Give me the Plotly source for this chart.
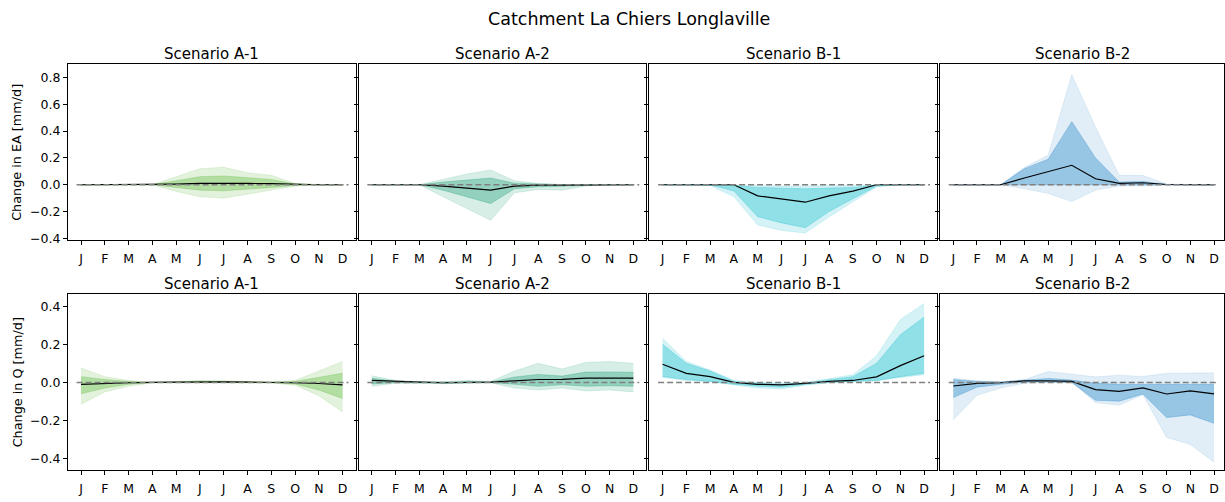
import plotly.graph_objects as go

months = ["J", "F", "M", "A", "M", "J", "J", "A", "S", "O", "N", "D"]
scenarios = ["Scenario A-1", "Scenario A-2", "Scenario B-1", "Scenario B-2"]
title = "Catchment La Chiers Longlaville"
ylabels = ["Change in EA [mm/d]", "Change in Q [mm/d]"]
base_colors = [(95, 185, 60), (27, 158, 119), (23, 190, 207), (40, 135, 200)]
outer_alpha = [0.18, 0.18, 0.18, 0.14]
inner_alpha = [0.36, 0.36, 0.36, 0.40]

# ---- Change in EA ----
ea_a1_outer_hi = [0, 0, 0, 0, 0.06, 0.12, 0.13, 0.09, 0.07, 0.01, 0, 0]
ea_a1_inner_hi = [0, 0, 0, 0, 0.03, 0.06, 0.065, 0.05, 0.04, 0.005, 0, 0]
ea_a1_median = [0, 0, 0, 0, 0.005, 0.01, 0.012, 0.01, 0.008, 0.002, 0, 0]
ea_a1_inner_lo = [0, 0, 0, 0, -0.02, -0.04, -0.045, -0.035, -0.02, -0.005, 0, 0]
ea_a1_outer_lo = [0, 0, 0, 0, -0.05, -0.09, -0.10, -0.07, -0.04, -0.01, 0, 0]

ea_a2_outer_hi = [0, 0, 0, 0.04, 0.08, 0.11, 0.03, 0.01, 0.002, 0, 0, 0]
ea_a2_inner_hi = [0, 0, 0, 0.02, 0.035, 0.05, 0.012, 0.004, 0, 0, 0, 0]
ea_a2_median = [0, 0, 0, -0.01, -0.025, -0.04, -0.01, -0.003, -0.002, 0, 0, 0]
ea_a2_inner_lo = [0, 0, 0, -0.04, -0.09, -0.14, -0.03, -0.015, -0.012, -0.003, 0, 0]
ea_a2_outer_lo = [0, 0, 0, -0.09, -0.18, -0.265, -0.06, -0.035, -0.04, -0.01, 0, 0]

ea_b1_outer_hi = [0, 0, 0, 0, -0.005, -0.01, -0.01, -0.008, -0.005, 0, 0, 0]
ea_b1_inner_hi = [0, 0, 0, -0.005, -0.02, -0.025, -0.03, -0.025, -0.02, -0.003, 0, 0]
ea_b1_median = [0, 0, 0, 0, -0.083, -0.108, -0.13, -0.083, -0.047, 0, 0, 0]
ea_b1_inner_lo = [0, 0, 0, -0.047, -0.238, -0.284, -0.32, -0.2, -0.108, -0.01, 0, 0]
ea_b1_outer_lo = [0, 0, -0.005, -0.09, -0.3, -0.34, -0.36, -0.24, -0.13, -0.015, 0, 0]

ea_b2_outer_hi = [0, 0, 0, 0.13, 0.22, 0.82, 0.43, 0.07, 0.07, 0.005, 0, 0]
ea_b2_inner_hi = [0, 0, 0, 0.12, 0.19, 0.47, 0.2, 0.02, 0.025, 0.002, 0, 0]
ea_b2_median = [0, 0, 0, 0.05, 0.1, 0.145, 0.045, 0.01, 0.015, 0.002, 0, 0]
ea_b2_inner_lo = [0, 0, 0, 0.005, 0.005, 0.005, 0.003, 0.002, 0.002, 0, 0, 0]
ea_b2_outer_lo = [0, 0, 0, -0.03, -0.065, -0.125, -0.04, -0.01, -0.01, 0, 0, 0]

# ---- Change in Q ----
q_a1_outer_hi = [0.075, 0.03, 0.01, 0, 0.005, 0.01, 0.008, 0.005, 0.003, 0.01, 0.06, 0.11]
q_a1_inner_hi = [0.03, 0.015, 0.005, 0, 0.003, 0.006, 0.005, 0.003, 0.002, 0.005, 0.025, 0.048]
q_a1_median = [-0.01, -0.005, -0.002, 0, 0.002, 0.003, 0.003, 0.001, 0, -0.002, -0.006, -0.013]
q_a1_inner_lo = [-0.06, -0.03, -0.01, 0, 0, 0, 0, 0, -0.001, -0.008, -0.04, -0.085]
q_a1_outer_lo = [-0.115, -0.05, -0.02, -0.003, -0.002, -0.002, -0.002, -0.002, -0.003, -0.015, -0.07, -0.155]

q_a2_outer_hi = [0.035, 0.01, 0.005, 0.003, 0.01, 0.005, 0.06, 0.1, 0.07, 0.105, 0.11, 0.1]
q_a2_inner_hi = [0.022, 0.006, 0.003, 0.001, 0.004, 0.002, 0.028, 0.042, 0.033, 0.054, 0.055, 0.053]
q_a2_median = [0.01, 0.004, 0.001, -0.002, 0.001, 0.001, 0.008, 0.015, 0.016, 0.022, 0.022, 0.022]
q_a2_inner_lo = [-0.008, -0.001, -0.002, -0.004, -0.002, -0.001, -0.01, -0.021, -0.012, -0.02, -0.018, -0.02]
q_a2_outer_lo = [-0.02, -0.005, -0.004, -0.007, -0.004, -0.002, -0.03, -0.04, -0.03, -0.045, -0.04, -0.05]

q_b1_outer_hi = [0.232, 0.11, 0.065, 0.01, 0, -0.005, 0, 0.02, 0.04, 0.14, 0.33, 0.415]
q_b1_inner_hi = [0.2, 0.1, 0.06, 0.005, -0.005, -0.01, -0.003, 0.015, 0.03, 0.1, 0.25, 0.343]
q_b1_median = [0.095, 0.047, 0.03, 0, -0.01, -0.013, -0.005, 0.005, 0.01, 0.029, 0.088, 0.14]
q_b1_inner_lo = [0.031, 0.015, 0.005, -0.01, -0.02, -0.025, -0.01, 0, 0.005, 0.01, 0.03, 0.048]
q_b1_outer_lo = [0.025, 0.01, 0.003, -0.012, -0.03, -0.035, -0.015, -0.002, 0.003, 0.008, 0.025, 0.04]

q_b2_outer_hi = [0.022, 0.008, 0.003, 0.015, 0.057, 0.042, 0.029, 0.038, 0.031, 0.048, 0.05, 0.05]
q_b2_inner_hi = [0.015, 0.005, 0.002, 0.012, 0.021, 0.012, -0.005, -0.01, -0.01, -0.01, -0.01, -0.01]
q_b2_median = [-0.019, -0.005, -0.002, 0.008, 0.008, 0.005, -0.038, -0.047, -0.029, -0.061, -0.045, -0.06]
q_b2_inner_lo = [-0.08, -0.025, -0.01, 0.003, 0.002, 0, -0.094, -0.099, -0.061, -0.185, -0.171, -0.215]
q_b2_outer_lo = [-0.197, -0.068, -0.03, -0.005, 0, 0, -0.106, -0.12, -0.065, -0.289, -0.327, -0.419]

panels = [
    (ea_a1_outer_lo, ea_a1_outer_hi, ea_a1_inner_lo, ea_a1_inner_hi, ea_a1_median),
    (ea_a2_outer_lo, ea_a2_outer_hi, ea_a2_inner_lo, ea_a2_inner_hi, ea_a2_median),
    (ea_b1_outer_lo, ea_b1_outer_hi, ea_b1_inner_lo, ea_b1_inner_hi, ea_b1_median),
    (ea_b2_outer_lo, ea_b2_outer_hi, ea_b2_inner_lo, ea_b2_inner_hi, ea_b2_median),
    (q_a1_outer_lo, q_a1_outer_hi, q_a1_inner_lo, q_a1_inner_hi, q_a1_median),
    (q_a2_outer_lo, q_a2_outer_hi, q_a2_inner_lo, q_a2_inner_hi, q_a2_median),
    (q_b1_outer_lo, q_b1_outer_hi, q_b1_inner_lo, q_b1_inner_hi, q_b1_median),
    (q_b2_outer_lo, q_b2_outer_hi, q_b2_inner_lo, q_b2_inner_hi, q_b2_median),
]

W, H = 1225, 502
FONT = "DejaVu Sans"
TICK = 12.5
x_left = [68, 359, 650, 941]
x_right = [356, 647, 938, 1225]
y_top = [64.7, 298]
y_bot = [242.7, 476]
y_ranges = [[-0.41, 0.9], [-0.462, 0.462]]
y_ticks = [[-0.4, -0.2, 0.0, 0.2, 0.4, 0.6, 0.8], [-0.4, -0.2, 0.0, 0.2, 0.4]]
xs = list(range(len(months)))


def rgba(c, a):
    return f"rgba({c[0]},{c[1]},{c[2]},{a})"


fig = go.Figure()
annotations = []
shapes = []
layout = {}

for i, (olo, ohi, ilo, ihi, med) in enumerate(panels):
    r, c = divmod(i, 4)
    n = i + 1
    xa = "x" if n == 1 else f"x{n}"
    ya = "y" if n == 1 else f"y{n}"
    col = base_colors[c]
    for lo, hi, a in [(olo, ohi, outer_alpha[c]), (ilo, ihi, inner_alpha[c])]:
        fig.add_trace(go.Scatter(x=xs, y=lo, mode="lines", line=dict(width=0.8, color=rgba(col, a)),
                                 xaxis=xa, yaxis=ya, showlegend=False, hoverinfo="skip"))
        fig.add_trace(go.Scatter(x=xs, y=hi, mode="lines", line=dict(width=0.8, color=rgba(col, a)),
                                 fill="tonexty", fillcolor=rgba(col, a),
                                 xaxis=xa, yaxis=ya, showlegend=False, hoverinfo="skip"))
    fig.add_trace(go.Scatter(x=xs, y=med, mode="lines", line=dict(width=1.2, color="black"),
                             xaxis=xa, yaxis=ya, showlegend=False))

    xr = [-0.55, 11.55] if c < 3 else [-0.55, 11.42]
    layout["xaxis" if n == 1 else f"xaxis{n}"] = dict(
        domain=[x_left[c] / W, x_right[c] / W], range=xr, anchor=ya,
        tickmode="array", tickvals=xs, ticktext=months,
        showline=True, linecolor="black", linewidth=1, mirror=True,
        ticks="outside", ticklen=4, tickcolor="black", showgrid=False, zeroline=False,
        ticklabelstandoff=3,
        tickfont=dict(family=FONT, size=TICK, color="black"),
    )
    layout["yaxis" if n == 1 else f"yaxis{n}"] = dict(
        domain=[1 - y_bot[r] / H, 1 - y_top[r] / H], range=y_ranges[r], anchor=xa,
        tickmode="array", tickvals=y_ticks[r], tickformat=".1f",
        showticklabels=(c == 0),
        showline=True, linecolor="black", linewidth=1, mirror=True,
        ticks="outside", ticklen=4, tickcolor="black", showgrid=False, zeroline=False,
        tickfont=dict(family=FONT, size=TICK, color="black"),
    )
    shapes.append(dict(type="line", xref=f"{xa} domain", yref=ya, x0=0.03, x1=0.975, y0=0, y1=0,
                       line=dict(color="rgb(128,128,128)", width=1.5, dash="6px,3px")))
    annotations.append(dict(text=scenarios[c], xref="paper", yref="paper",
                            x=(x_left[c] + x_right[c]) / 2 / W, y=1 - (y_top[r] - 10.5) / H,
                            xanchor="center", yanchor="middle", showarrow=False,
                            font=dict(family=FONT, size=15, color="black")))

for r in range(2):
    annotations.append(dict(text=ylabels[r], xref="paper", yref="paper",
                            x=17 / W, y=1 - (y_top[r] + y_bot[r]) / 2 / H,
                            xanchor="center", yanchor="middle", textangle=-90, showarrow=False,
                            font=dict(family=FONT, size=12.8, color="black")))

annotations.append(dict(text=title, xref="paper", yref="paper", x=630 / W, y=1 - 19 / H,
                        xanchor="center", yanchor="middle", showarrow=False,
                        font=dict(family=FONT, size=17.5, color="black")))

fig.update_layout(
    width=W, height=H, margin=dict(l=0, r=0, t=0, b=0),
    paper_bgcolor="white", plot_bgcolor="white",
    annotations=annotations, shapes=shapes, **layout,
)

fig.write_html("out.html")
